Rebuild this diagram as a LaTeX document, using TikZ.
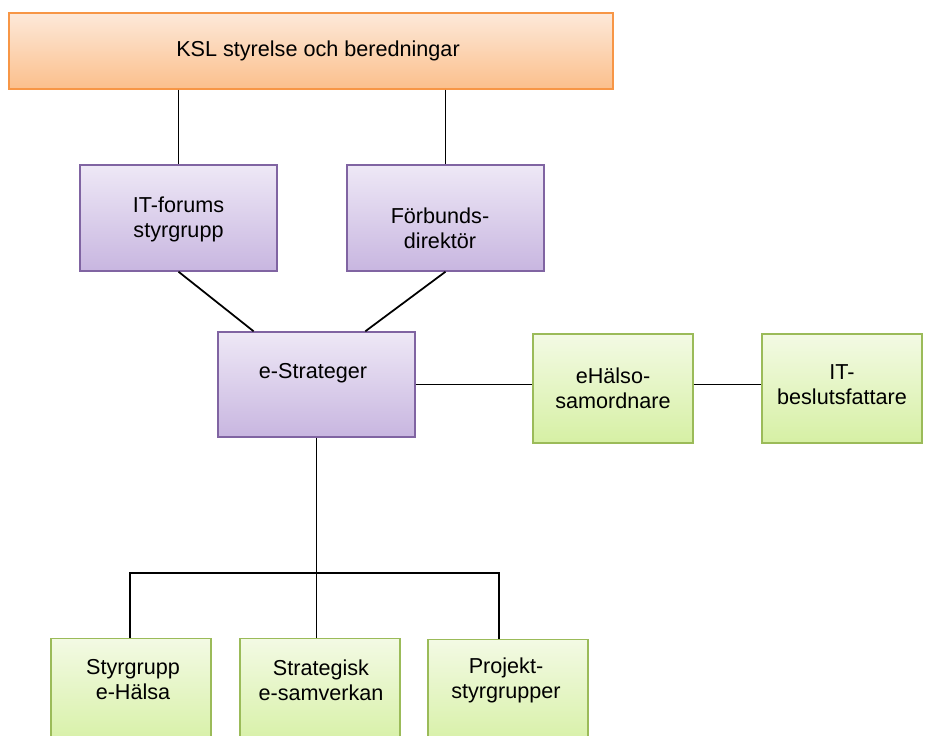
\documentclass[tikz,border=0pt]{standalone}
\usepackage{fontspec}
\setmainfont{Liberation Sans}
\usetikzlibrary{calc,positioning}

\definecolor{orangeline}{HTML}{F79646}
\definecolor{orangetop}{HTML}{FDE9D9}
\definecolor{orangebot}{HTML}{FBBF8C}
\definecolor{purpleline}{HTML}{8064A2}
\definecolor{purpletop}{HTML}{EEE8F6}
\definecolor{purplebot}{HTML}{C8B6E0}
\definecolor{greenline}{HTML}{9BBB59}
\definecolor{greentop}{HTML}{F3FAE4}
\definecolor{greenbot}{HTML}{D6F0A4}

\begin{document}
\begin{tikzpicture}[x=0.02cm, y=-0.02cm, line width=0.8pt,
    obox/.style={draw=orangeline,top color=orangetop,bottom color=orangebot,minimum width=12.08cm,minimum height=1.52cm,inner sep=0pt},
    pbox/.style={draw=purpleline,top color=purpletop,bottom color=purplebot,minimum width=3.94cm,minimum height=2.12cm,inner sep=0pt},
    gbox/.style={draw=greenline,top color=greentop,bottom color=greenbot,minimum width=3.2cm,minimum height=2.18cm,inner sep=0pt},
    txt/.style={align=center,inner sep=0pt,font=\fontsize{12.3}{14.2}\selectfont},
    con/.style={draw=black,line width=1pt}]
                      \clip (0,0) rectangle (929,736);
                      \node[obox] (ksl) at (311,51) {};
                      \node[txt] (ksl-t) at (318,51) {KSL styrelse och beredningar};

                      \node[pbox] (itf) at (178.5,218) {};
                      \node[pbox] (fd) at (445.5,218) {};
                      \node[pbox,minimum height=2.1cm] (strat) at (316.5,384.5) {};
                      \node[txt] (itf-t) at (178.5,219) {IT-forums\\styrgrupp};
                      \node[txt] (fd-t) at (440,228) {Förbunds-\\direktör};
                      \node[txt] (strat-t) at (313,373) {e-Strateger};

                      \node[gbox] (ehs) at (613,388.5) {};
                      \node[gbox] (itb) at (842,388.5) {};
                      \node[txt] (ehs-t) at (613,388) {eHälso-\\samordnare};
                      \node[txt] (itb-t) at (842,385) {IT-\\beslutsfattare};

                      \node[gbox] (sg) at (131,693) {};
                      \node[gbox] (se) at (320,693) {};
                      \node[gbox] (ps) at (508,694) {};
                      \node[txt] (sg-t) at (133,680) {Styrgrupp\\e-Hälsa};
                      \node[txt] (se-t) at (321,680) {Strategisk\\e-samverkan};
                      \node[txt] (ps-t) at (506,680) {Projekt-\\styrgrupper};

                      \coordinate (busL) at (130,573);
                      \coordinate (busR) at (499,573);
                      \draw[con] (ksl.south -| itf.north) -- (itf.north);
                      \draw[con] (ksl.south -| fd.north) -- (fd.north);
                      \draw[con] (itf.south) -- ($(strat.north west)!0.183!(strat.north east)$);
                      \draw[con] (fd.south) -- ($(strat.north west)!0.746!(strat.north east)$);
                      \draw[con] (strat.east) -- (strat.east -| ehs.west);
                      \draw[con] (strat.east -| ehs.east) -- (strat.east -| itb.west);
                      \draw[con] (strat.south) -- (strat.south |- se.north);
                      \draw[con] (busL |- sg.north) -- (busL) -- (busR) -- (busR |- ps.north);
                    \end{tikzpicture}
\end{document}
